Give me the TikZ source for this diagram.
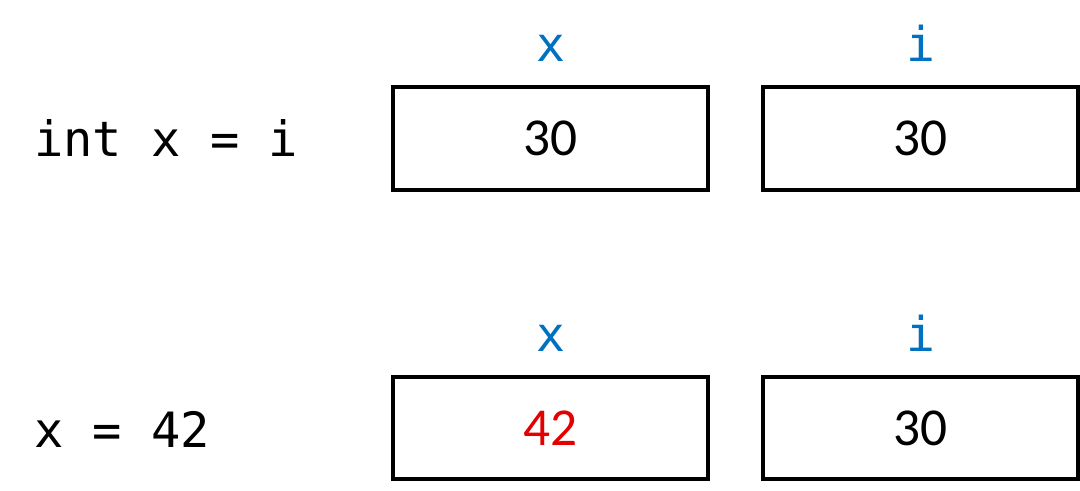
\documentclass[tikz,border=0pt]{standalone}
\usepackage{fontspec}
\setmainfont{Carlito}
\newfontfamily\codefont{DejaVu Sans Mono}
\usetikzlibrary{positioning}
\definecolor{varblue}{RGB}{0,112,192}
\definecolor{newred}{RGB}{228,0,0}
\tikzstyle{cell} = [rectangle, draw, line width=3pt, minimum width=236pt, minimum height=77pt, inner sep=0pt, font=\fontsize{40}{48}\selectfont]
\tikzstyle{varname} = [anchor=base, text=varblue, font=\codefont\fontsize{36}{43}\selectfont]
\tikzstyle{stmt} = [anchor=base west, inner sep=0pt, font=\codefont\fontsize{36.5}{44}\selectfont]

\begin{document}
\begin{tikzpicture}[x=0.75pt, y=-0.75pt, node distance=277.5pt]
	\useasboundingbox (0,0) rectangle (1080,491);
	% first statement
	\node [stmt] (decl) at (34,157) {int x = i};
	\node [cell] (xa) at (550.5,138.5) {30};
	\node [cell, right of=xa] (ia) {30};
	\node [above of=xa, node distance=57.4pt, varname] (xalab) {x};
	\node [above of=ia, node distance=57.4pt, varname] (ialab) {i};
	% second statement
	\node [stmt] (assign) at (34,447) {x = 42};
	\node [cell, below of=xa, node distance=217.1pt, text=newred] (xb) {42};
	\node [cell, right of=xb] (ib) {30};
	\node [above of=xb, node distance=57pt, varname] (xblab) {x};
	\node [above of=ib, node distance=57pt, varname] (iblab) {i};
\end{tikzpicture}
\end{document}
